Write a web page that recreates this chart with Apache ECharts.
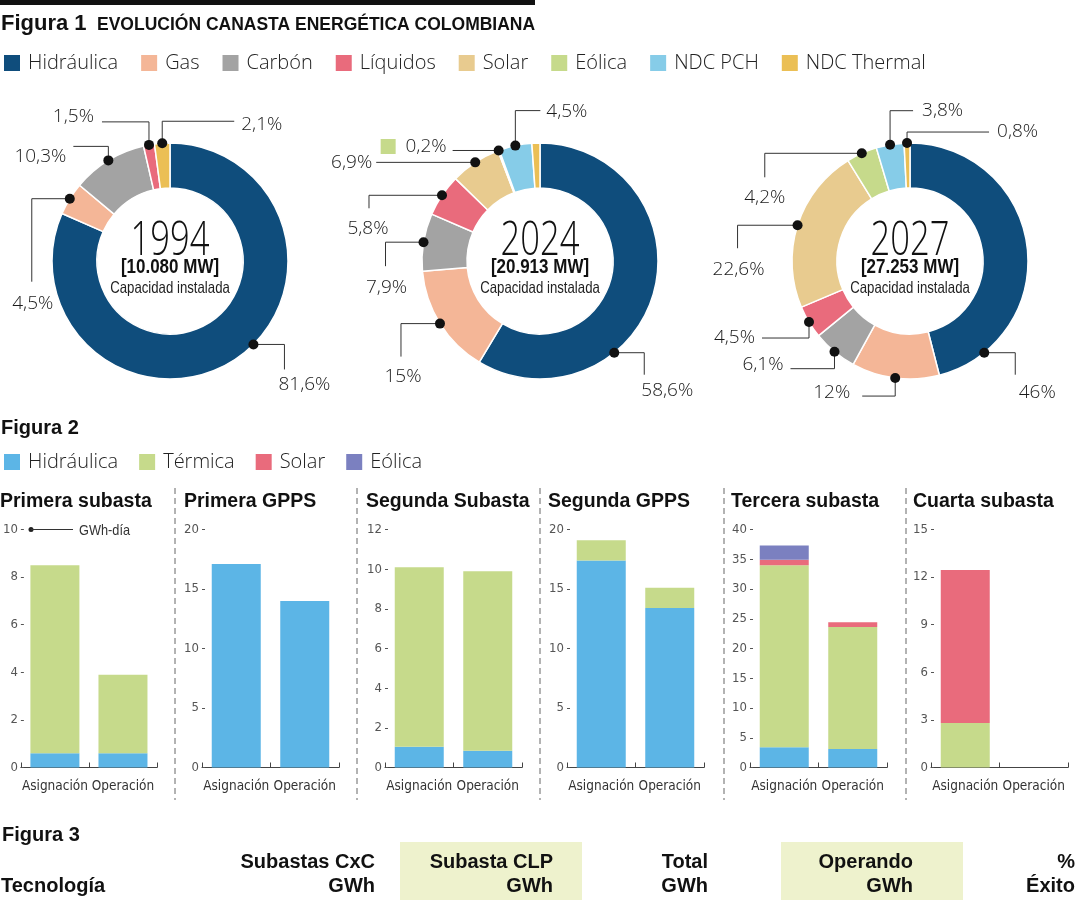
<!DOCTYPE html>
<html><head><meta charset="utf-8">
<script src="https://cdn.jsdelivr.net/npm/echarts@6/dist/echarts.min.js"></script>
<style>html,body{margin:0;padding:0;background:#fff}#c{width:1080px;height:900px}</style>
</head><body><div id="c"></div>
<script>
// ---------- DATA ----------
const energyCats = ['Hidráulica','Gas','Carbón','Líquidos','Solar','Eólica','NDC PCH','NDC Thermal'];
const years = ['1994','2024','2027'];
const capacityMW = ['10.080','20.913','27.253'];
const share1994 = [81.6, 4.5, 10.3, 1.5, 0, 0, 0, 2.1];
const share2024 = [58.6, 15, 7.9, 5.8, 6.9, 0.2, 4.5, 1.1];
const share2027 = [46, 12, 6.1, 4.5, 22.6, 4.2, 3.8, 0.8];

const auctions = ['Primera subasta','Primera GPPS','Segunda Subasta','Segunda GPPS','Tercera subasta','Cuarta subasta'];
const stages = ['Asignación','Operación'];
const techCats = ['Hidráulica','Térmica','Solar','Eólica'];
const hidroGWh   = [[0.6,0.6],[17.1,14.0],[1.05,0.85],[17.4,13.4],[3.4,3.1],[0,0]];
const termicaGWh = [[7.9,3.3],[0,0],[9.05,9.05],[1.7,1.7],[30.6,20.5],[2.8,0]];
const solarGWh   = [[0,0],[0,0],[0,0],[0,0],[0.9,0.8],[9.65,0]];
const eolicaGWh  = [[0,0],[0,0],[0,0],[0,0],[2.4,0],[0,0]];
const yMax  = [10,20,12,20,40,15];
const yStep = [2,5,2,5,5,3];

const tableHead1 = ['Subastas CxC','Subasta CLP','Total','Operando','%'];
const tableHead2 = ['GWh','GWh','GWh','GWh','Éxito'];

// ---------- STYLE / LAYOUT ----------
const energyColors = ['#0f4d7c','#f4b697','#a3a3a3','#e96b7c','#e8cb8f','#c6da8b','#86cce8','#ebbf55'];
const techColors = ['#5cb5e6','#c6da8b','#e96b7c','#7b80c0'];
const SANS = '"Liberation Sans", Arial, sans-serif';
const LIGHT = '"Open Sans", "Noto Sans", sans-serif';
const COND = '"DejaVu Sans Condensed", "Liberation Sans", sans-serif';
const pieCenters = [[170,261],[540,261],[910,261]];
const R0 = 73, R = 118;
// leader-line guides per year, per category (relative to the dot)
const guides = [
  {0:{a:135,pts:[[0,0],[31,0],[31,25]],tx:[51,40],al:'center'},
   1:{pts:[[0,0],[-38,0],[-38,83]],tx:[-37,105],al:'center'},
   2:{pts:[[0,0],[0,-14],[-35,-14]],tx:[-42,-4],al:'right'},
   3:{pts:[[0,0],[0,-23],[-47,-23]],tx:[-55,-28],al:'right'},
   7:{pts:[[0,0],[0,-22],[72,-22]],tx:[79,-19],al:'left'}},
  {0:{a:141,pts:[[0,0],[30,0],[30,22]],tx:[53,38],al:'center'},
   1:{pts:[[0,0],[-39,0],[-39,33]],tx:[-37,53],al:'center'},
   2:{pts:[[0,0],[-38,0],[-38,24]],tx:[-37,45],al:'center'},
   3:{pts:[[0,0],[-73,0],[-73,13]],tx:[-74,33],al:'center'},
   4:{pts:[[0,0],[-99,0]],tx:[-103,0],al:'right'},
   5:{pts:[[0,0],[-46,0]],tx:[-52,-4],al:'right',sw:true},
   6:{pts:[[0,0],[0,-35],[25,-35]],tx:[31,-34],al:'left'}},
  {0:{a:141,pts:[[0,0],[31,0],[31,22]],tx:[53,40],al:'center'},
   1:{pts:[[0,0],[0,18],[-33,18]],tx:[-45,15],al:'right'},
   2:{pts:[[0,0],[0,17],[-44,17]],tx:[-51,13],al:'right'},
   3:{pts:[[0,0],[0,16],[-47,16]],tx:[-54,16],al:'right'},
   4:{pts:[[0,0],[-60,0],[-60,23]],tx:[-59,44],al:'center'},
   5:{pts:[[0,0],[-97,0],[-97,24]],tx:[-97,44],al:'center'},
   6:{pts:[[0,0],[0,-34],[23,-34]],tx:[32,-34],al:'left'},
   7:{pts:[[0,0],[0,-11],[82,-11]],tx:[90,-11],al:'left'}}
];
const gridLeft = [20, 202, 385, 567, 750, 931];
const gridW = 137, gridTop = 529.5, gridBottom = 132.5;
const panelTitleX = [0, 184, 366, 548, 731, 913];
const sepX = [175, 357, 540, 724, 906];

// ---------- BUILD ----------
const shares = [share1994, share2024, share2027];
const sliceMaps = shares.map(s => s.map((v,k)=>k).filter(k => s[k] > 0));
function midAngle(i, cat){
  const s = shares[i]; const tot = s.reduce((a,b)=>a+b,0);
  let cum = 0; for (let k=0;k<cat;k++) cum += s[k];
  return (cum + s[cat]/2)/tot*360;
}
function dotPos(i, cat){
  const g = guides[i][cat];
  const a = (g && g.a != null ? g.a : midAngle(i, cat)) * Math.PI/180;
  return [pieCenters[i][0] + R*Math.sin(a), pieCenters[i][1] - R*Math.cos(a)];
}
const fmtPct = v => String(v).replace('.', ',') + '%';

const series = [];
years.forEach((y,i)=>{
  const map = sliceMaps[i];
  series.push({
    type:'pie', name:'pie'+y, center:pieCenters[i], radius:[R0,R], startAngle:90, clockwise:true,
    avoidLabelOverlap:false, silent:true, z:2,
    itemStyle:{borderColor:'#fff', borderWidth:1.5},
    label:{show:true, position:'outside', overflow:'none', fontSize:19, fontFamily:LIGHT, fontWeight:300, color:'#1a1a1a',
      formatter: p => { const g = guides[i][map[p.dataIndex]]; if(!g) return ''; const t = fmtPct(p.value); return g.sw ? '{sq|}{t|  '+t+'}' : t; },
      rich:{sq:{width:15,height:15,backgroundColor:energyColors[5]}, t:{fontSize:19,fontFamily:LIGHT,fontWeight:300,color:'#1a1a1a'}}},
    labelLine:{show:true, length:10, length2:10, smooth:false, lineStyle:{color:'#333', width:1}},
    labelLayout: p => {
      const cat = map[p.dataIndex]; const g = guides[i][cat]; if(!g) return {};
      const d = dotPos(i, cat);
      return {x:d[0]+g.tx[0], y:d[1]+g.tx[1], align:g.al, verticalAlign:'middle',
        labelLinePoints: g.pts.map(q=>[d[0]+q[0], d[1]+q[1]])};
    },
    data: map.map(k => {
      const o = {name:energyCats[k], value:shares[i][k], itemStyle:{color:energyColors[k]}};
      if(!guides[i][k]){ o.label={show:false}; o.labelLine={show:false}; }
      return o;
    })
  });
});
years.forEach((y,i)=>{
  const map = sliceMaps[i];
  series.push({
    type:'pie', name:'dots'+y, center:pieCenters[i], radius:[R-6,R+6], startAngle:90, clockwise:true,
    avoidLabelOverlap:false, silent:true, z:5,
    itemStyle:{color:'rgba(0,0,0,0)', borderWidth:0},
    label:{show:true, position:'inside', formatter:'{d|}', rich:{d:{width:10,height:10,borderRadius:5,backgroundColor:'#111'}}},
    labelLine:{show:false},
    labelLayout: p => { const d = dotPos(i, map[p.dataIndex]); return {x:d[0], y:d[1], align:'center', verticalAlign:'middle'}; },
    data: map.map(k => {
      const o = {name:energyCats[k], value:shares[i][k]};
      if(!guides[i][k]) o.label={show:false};
      return o;
    })
  });
});

const techData = [hidroGWh, termicaGWh, solarGWh, eolicaGWh];
const grids=[], xAxes=[], yAxes=[];
auctions.forEach((a,p)=>{
  grids.push({left:gridLeft[p], width:gridW, top:gridTop, bottom:gridBottom, containLabel:false});
  xAxes.push({type:'category', gridIndex:p, data:stages, boundaryGap:true,
    axisLine:{show:true, lineStyle:{color:'#444', width:1}},
    axisTick:{show:true, inside:true, length:5, alignWithLabel:false, interval:0, lineStyle:{color:'#444'}},
    axisLabel:{interval:0, margin:12, fontSize:13.5, fontFamily:COND, color:'#333'}, splitLine:{show:false}});
  yAxes.push({type:'value', gridIndex:p, min:0, max:yMax[p], interval:yStep[p],
    axisLine:{show:false}, axisTick:{show:true, inside:true, length:3, lineStyle:{color:'#555'}},
    axisLabel:{margin:3, fontSize:13, fontFamily:COND, color:'#555'}, splitLine:{show:false}});
  techCats.forEach((t,k)=>{
    series.push({type:'bar', name:t, xAxisIndex:p, yAxisIndex:p, stack:'s'+p, barWidth:49,
      itemStyle:{color:techColors[k]}, silent:true, data:techData[k][p]});
  });
});

const T = (text,x,y,font,align,fill,sx) => ({type:'text', silent:true, x:x, y:y, scaleX:sx||1,
  style:{text, x:0, y:0, font, fill:fill||'#111',
  align:align||'left', verticalAlign:'middle', textAlign:align||'left', textVerticalAlign:'middle'}});
const gfx = [];
gfx.push({type:'rect', silent:true, shape:{x:0,y:0,width:535,height:5}, style:{fill:'#111'}});
gfx.push(T('Figura 1', 1, 24, 'bold 22px '+SANS));
gfx.push(T('EVOLUCIÓN CANASTA ENERGÉTICA COLOMBIANA', 97, 25, 'bold 17.5px '+SANS));
years.forEach((y,i)=>{
  const cx = pieCenters[i][0];
  gfx.push(T(y, cx, 241, '300 48px '+LIGHT, 'center', '#111', 0.72));
  gfx.push(T('['+capacityMW[i]+' MW]', cx, 267, 'bold 20px '+SANS, 'center', '#111', 0.85));
  gfx.push(T('Capacidad instalada', cx, 288, '16.5px '+SANS, 'center', '#222', 0.8));
});
gfx.push(T('Figura 2', 1, 428, 'bold 20px '+SANS));
auctions.forEach((a,p)=> gfx.push(T(a, panelTitleX[p], 502, 'bold 19.5px '+SANS)));
sepX.forEach(x => gfx.push({type:'line', silent:true, shape:{x1:x,y1:488,x2:x,y2:800}, style:{stroke:'#666', lineWidth:1, lineDash:[6,4]}}));
gfx.push({type:'circle', silent:true, shape:{cx:31, cy:529.5, r:2.5}, style:{fill:'#222'}});
gfx.push({type:'line', silent:true, shape:{x1:31,y1:529.5,x2:73,y2:529.5}, style:{stroke:'#333', lineWidth:1}});
gfx.push(T('GWh-día', 79, 531, '15px '+SANS, 'left', '#333', 0.85));
gfx.push(T('Figura 3', 2, 835, 'bold 20px '+SANS));
gfx.push({type:'rect', silent:true, shape:{x:400,y:842,width:182,height:58}, style:{fill:'#eef2cd'}});
gfx.push({type:'rect', silent:true, shape:{x:781,y:842,width:182,height:58}, style:{fill:'#eef2cd'}});
gfx.push(T('Tecnología', 1, 886, 'bold 20px '+SANS));
const headX = [375, 553, 708, 913, 1075];
tableHead1.forEach((t,k)=>{
  gfx.push(T(t, headX[k], 862, 'bold 20px '+SANS, 'right'));
  gfx.push(T(tableHead2[k], headX[k], 886, 'bold 20px '+SANS, 'right'));
});

const option = {
  animation:false,
  backgroundColor:'#fff',
  legend:[
    {left:4, top:53, orient:'horizontal', icon:'rect', itemWidth:16, itemHeight:16, itemGap:23, padding:0, selectedMode:false,
     itemStyle:{borderWidth:0},
     textStyle:{fontSize:20, fontFamily:LIGHT, fontWeight:300, color:'#222', padding:[0,0,0,3]},
     data: energyCats.map((n,k)=>({name:n, itemStyle:{color:energyColors[k], borderWidth:0}}))},
    {left:4, top:452, orient:'horizontal', icon:'rect', itemWidth:16, itemHeight:16, itemGap:21, padding:0, selectedMode:false,
     itemStyle:{borderWidth:0},
     textStyle:{fontSize:20, fontFamily:LIGHT, fontWeight:300, color:'#222', padding:[0,0,0,3]},
     data: techCats.map((n,k)=>({name:n, itemStyle:{color:techColors[k], borderWidth:0}}))}
  ],
  grid:grids, xAxis:xAxes, yAxis:yAxes,
  series,
  graphic:{elements:gfx}
};
const chart = echarts.init(document.getElementById('c'), null, {renderer:'canvas'});
chart.setOption(option);
</script></body></html>
